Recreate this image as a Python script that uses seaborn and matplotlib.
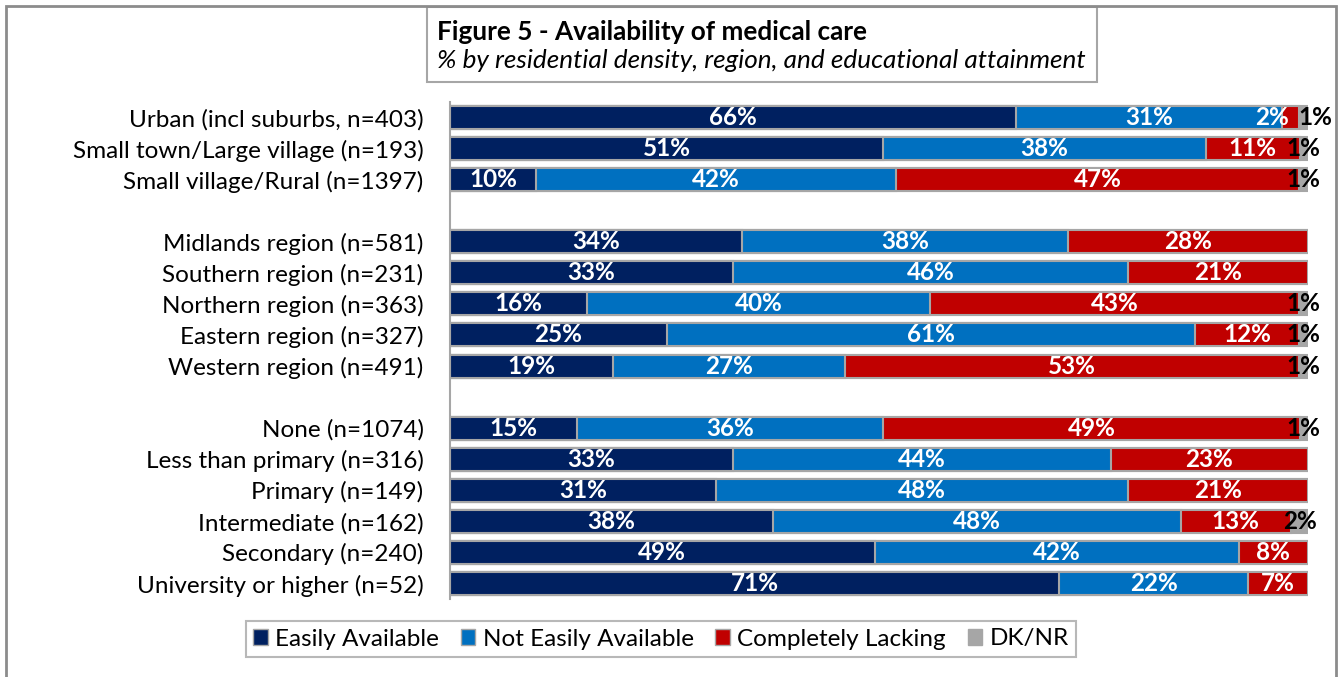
import numpy as np
import pandas as pd
import matplotlib
matplotlib.use("Agg")
import matplotlib.pyplot as plt
import seaborn as sns
from matplotlib.patches import Rectangle, Patch

# Data
groups = [
    "Urban (incl suburbs, n=403)",
    "Small town/Large village (n=193)",
    "Small village/Rural (n=1397)",
    "Midlands region (n=581)",
    "Southern region (n=231)",
    "Northern region (n=363)",
    "Eastern region (n=327)",
    "Western region (n=491)",
    "None (n=1074)",
    "Less than primary (n=316)",
    "Primary (n=149)",
    "Intermediate (n=162)",
    "Secondary (n=240)",
    "University or higher (n=52)",
]
easily = [66, 51, 10, 34, 33, 16, 25, 19, 15, 33, 31, 38, 49, 71]
not_easily = [31, 38, 42, 38, 46, 40, 61, 27, 36, 44, 48, 48, 42, 22]
lacking = [2, 11, 47, 28, 21, 43, 12, 53, 49, 23, 21, 13, 8, 7]
dknr = [1, 1, 1, 0, 0, 1, 1, 1, 1, 0, 0, 2, 0, 0]

series_names = ["Easily Available", "Not Easily Available", "Completely Lacking", "DK/NR"]
colors = ["#002060", "#0070C0", "#C00000", "#A6A6A6"]

# category order with blank spacer rows between the three blocks
order = groups[:3] + [""] + groups[3:8] + [" "] + groups[8:]

df = pd.DataFrame({
    "group": groups,
    series_names[0]: easily,
    series_names[1]: not_easily,
    series_names[2]: lacking,
    series_names[3]: dknr,
})
vals = df[series_names].to_numpy(dtype=float)
scaled = vals / vals.sum(axis=1, keepdims=True) * 100
cum = np.cumsum(scaled, axis=1)

plt.rcParams["font.family"] = ["Lato", "DejaVu Sans"]
FS = 17.5

fig = plt.figure(figsize=(13.41, 6.77), dpi=100)
ax = fig.add_axes([450 / 1341, 1 - 599 / 677, 858 / 1341, 497 / 677])

# stacked bars: draw cumulative totals, largest first
for i in range(len(series_names) - 1, -1, -1):
    plot_df = pd.DataFrame({"group": groups, "val": cum[:, i]})
    sns.barplot(data=plot_df, x="val", y="group", order=order, color=colors[i],
                saturation=1, width=0.74, edgecolor="#A6A6A6", linewidth=1.5,
                ax=ax, orient="h")

# value labels (tiny segments get nudged apart like in the original)
pos = {g: order.index(g) for g in groups}
for r, g in enumerate(groups):
    crowded = 0 < vals[r, 2] < 3
    for i in range(len(series_names)):
        v = vals[r, i]
        if v <= 0:
            continue
        center = cum[r, i] - scaled[r, i] / 2
        if i == 3:
            shift = 1.3 if crowded else 0
            ax.text(center + shift, pos[g], f"{int(v)}%", ha="center", va="center",
                    color="black", fontsize=FS, fontweight="bold", clip_on=False)
        else:
            shift = -2.2 if v < 3 else 0
            ax.text(center + shift, pos[g], f"{int(v)}%", ha="center", va="center",
                    color="white", fontsize=FS, fontweight="bold")

ax.set_xlim(0, 100)
ax.set_ylim(len(order) - 0.5, -0.5)
ax.set_xlabel("")
ax.set_ylabel("")
ax.set_xticks([])
ax.tick_params(axis="y", length=0, pad=19, labelsize=FS, labelcolor="black")
for s in ["top", "right", "bottom"]:
    ax.spines[s].set_visible(False)
ax.spines["left"].set_color("#A6A6A6")
ax.spines["left"].set_linewidth(1.5)

# title box
fig.patches.append(Rectangle((427 / 1341, 1 - 82 / 677), 670 / 1341, 75 / 677,
                             transform=fig.transFigure, facecolor="white",
                             edgecolor="#A6A6A6", linewidth=1.5))
fig.text(437 / 1341, 1 - 32 / 677, "Figure 5 - Availability of medical care",
         fontsize=18.8, fontweight="bold", va="center", ha="left")
fig.text(437 / 1341, 1 - 61 / 677,
         "% by residential density, region, and educational attainment",
         fontsize=18.8, style="italic", va="center", ha="left")

# legend
handles = [Patch(facecolor=c, edgecolor="#A6A6A6", label=n)
           for c, n in zip(colors, series_names)]
leg = fig.legend(handles=handles, loc="center", ncol=4,
                 bbox_to_anchor=(661 / 1341, 1 - 639 / 677), fontsize=FS,
                 frameon=True, fancybox=False, handlelength=0.6, handleheight=0.6,
                 handletextpad=0.3, columnspacing=0.9, borderpad=0.3)
leg.get_frame().set_edgecolor("#A6A6A6")
leg.get_frame().set_linewidth(1.5)

# outer border
fig.patches.append(Rectangle((5.5 / 1341, -0.05), 1330.5 / 1341, 1.05 - 6 / 677,
                             transform=fig.transFigure, fill=False,
                             edgecolor="#8C8C8C", linewidth=2))

fig.savefig("out.png", dpi=100)
